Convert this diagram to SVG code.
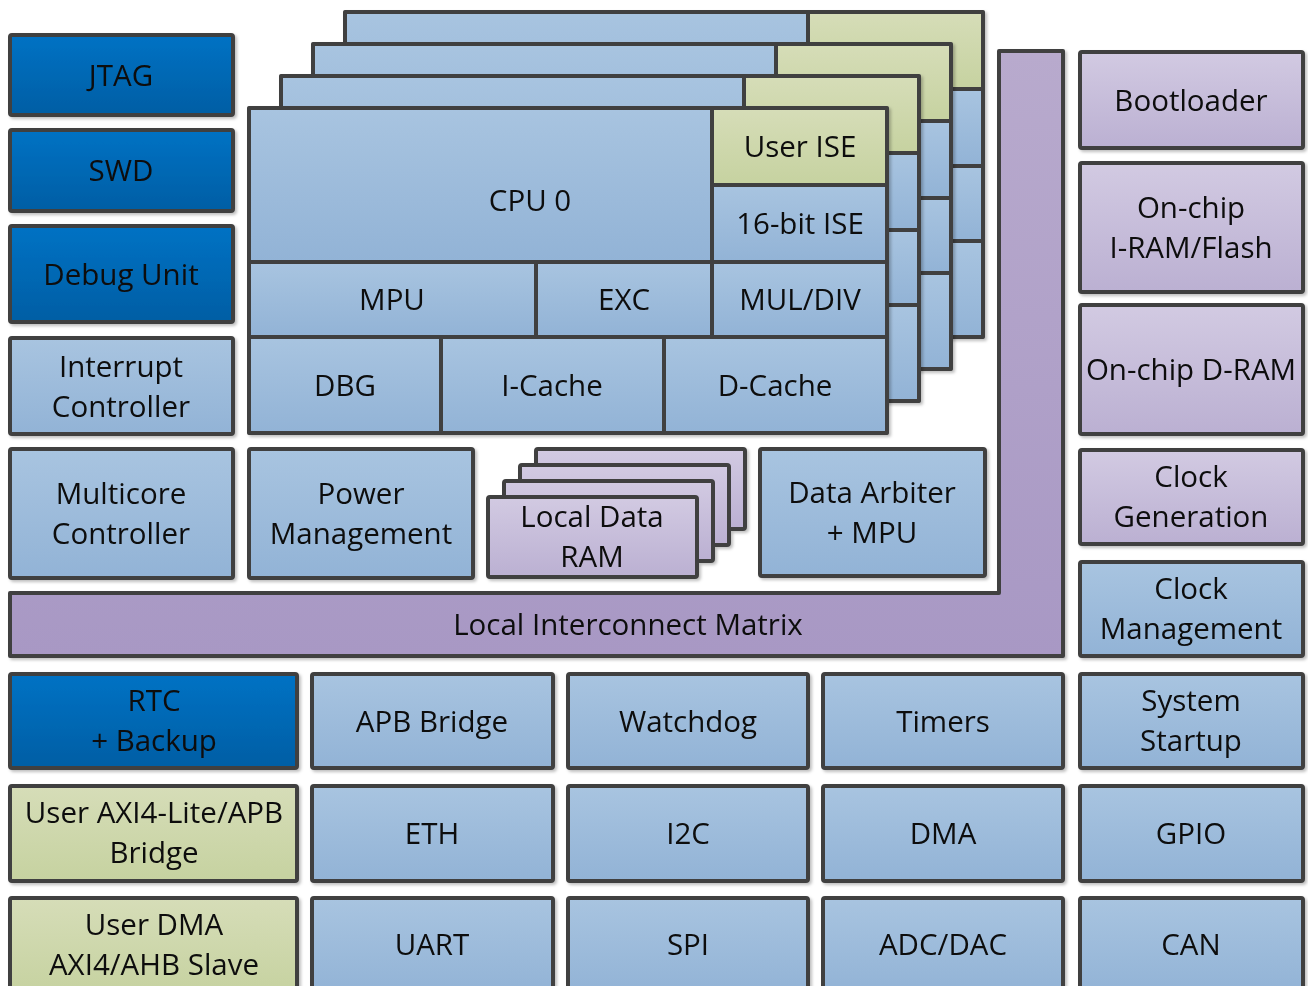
<svg xmlns="http://www.w3.org/2000/svg" xmlns:xlink="http://www.w3.org/1999/xlink" width="1308" height="986" viewBox="0 0 1308 986">
<defs>
<linearGradient id="gBlue" x1="0" y1="0" x2="0" y2="1"><stop offset="0" stop-color="#a8c4e0"/><stop offset="1" stop-color="#92b3d6"/></linearGradient>
<linearGradient id="gDark" x1="0" y1="0" x2="0" y2="1"><stop offset="0" stop-color="#0072c4"/><stop offset="1" stop-color="#005ea4"/></linearGradient>
<linearGradient id="gGreen" x1="0" y1="0" x2="0" y2="1"><stop offset="0" stop-color="#d6ddb8"/><stop offset="1" stop-color="#c6d2a0"/></linearGradient>
<linearGradient id="gPurp" x1="0" y1="0" x2="0" y2="1"><stop offset="0" stop-color="#d2cae2"/><stop offset="1" stop-color="#bbb0d2"/></linearGradient>
<linearGradient id="gL" x1="0" y1="0" x2="0" y2="1"><stop offset="0" stop-color="#b8aacd"/><stop offset="1" stop-color="#a898c4"/></linearGradient>
<filter id="sh" x="-5%" y="-5%" width="115%" height="115%"><feDropShadow dx="2" dy="2" stdDeviation="1.5" flood-color="#000" flood-opacity="0.25"/></filter>
<style>
.bx{stroke:#404040;stroke-width:4;stroke-linejoin:round}
.blue{fill:url(#gBlue)}
.dark{fill:url(#gDark)}
.green{fill:url(#gGreen)}
.purp{fill:url(#gPurp)}
.t{font-family:"Open Sans","Noto Sans","DejaVu Sans",sans-serif;font-size:29.5px;fill:#0d0d0d;text-anchor:middle}
.node{filter:url(#sh)}
</style>
<g id="cpuShape">
<rect class="bx blue" x="249" y="108" width="463" height="154"/>
<rect class="bx green" x="712" y="108" width="175" height="77"/>
<rect class="bx blue" x="712" y="185" width="175" height="77"/>
<rect class="bx blue" x="249" y="262" width="287" height="75"/>
<rect class="bx blue" x="536" y="262" width="176" height="75"/>
<rect class="bx blue" x="712" y="262" width="175" height="75"/>
<rect class="bx blue" x="249" y="337" width="192" height="96"/>
<rect class="bx blue" x="441" y="337" width="223" height="96"/>
<rect class="bx blue" x="664" y="337" width="223" height="96"/>
<rect class="bx" fill="none" x="249" y="108" width="638" height="325" rx="2"/>
</g>
</defs>

<g id="connectors"></g>

<g id="local-interconnect-matrix" class="node">
<path class="bx" fill="url(#gL)" d="M999,51 H1063 V656 H10 V593 H999 Z"/>
<text class="t" x="628" y="635">Local Interconnect Matrix</text>
</g>

<g id="cpu3" class="node"><use xlink:href="#cpuShape" href="#cpuShape" transform="translate(96,-96)"/></g>
<g id="cpu2" class="node"><use xlink:href="#cpuShape" href="#cpuShape" transform="translate(64,-64)"/></g>
<g id="cpu1" class="node"><use xlink:href="#cpuShape" href="#cpuShape" transform="translate(32,-32)"/></g>
<g id="cpu0" class="node">
<use xlink:href="#cpuShape" href="#cpuShape"/>
<text class="t" x="530" y="211">CPU 0</text>
<text class="t" x="800" y="157">User ISE</text>
<text class="t" x="800" y="234">16-bit ISE</text>
<text class="t" x="392" y="310">MPU</text>
<text class="t" x="624" y="310">EXC</text>
<text class="t" x="800" y="310">MUL/DIV</text>
<text class="t" x="345" y="396">DBG</text>
<text class="t" x="552" y="396">I-Cache</text>
<text class="t" x="775" y="396">D-Cache</text>
</g>

<g id="jtag" class="node"><rect class="bx dark" x="10" y="35" width="223" height="80" rx="2"/><text class="t" x="121" y="86">JTAG</text></g>
<g id="swd" class="node"><rect class="bx dark" x="10" y="130" width="223" height="81" rx="2"/><text class="t" x="121" y="181">SWD</text></g>
<g id="debug-unit" class="node"><rect class="bx dark" x="10" y="226" width="223" height="96" rx="2"/><text class="t" x="121" y="285">Debug Unit</text></g>
<g id="interrupt-controller" class="node"><rect class="bx blue" x="10" y="338" width="223" height="96" rx="2"/><text class="t" x="121" y="376.5">Interrupt</text><text class="t" x="121" y="416.5">Controller</text></g>
<g id="multicore-controller" class="node"><rect class="bx blue" x="10" y="449" width="223" height="129" rx="2"/><text class="t" x="121" y="503.5">Multicore</text><text class="t" x="121" y="543.5">Controller</text></g>
<g id="power-management" class="node"><rect class="bx blue" x="249" y="449" width="224" height="129" rx="2"/><text class="t" x="361" y="503.5">Power</text><text class="t" x="361" y="543.5">Management</text></g>

<g id="local-data-ram" class="node">
<rect class="bx purp" x="536" y="449" width="209" height="80" rx="2"/>
<rect class="bx purp" x="520" y="465" width="209" height="80" rx="2"/>
<rect class="bx purp" x="504" y="481" width="209" height="80" rx="2"/>
<rect class="bx purp" x="488" y="497" width="209" height="80" rx="2"/>
<text class="t" x="592" y="527">Local Data</text><text class="t" x="592" y="567">RAM</text>
</g>
<g id="data-arbiter" class="node"><rect class="bx blue" x="760" y="449" width="225" height="127" rx="2"/><text class="t" x="872" y="502.5">Data Arbiter</text><text class="t" x="872" y="542.5">+ MPU</text></g>

<g id="bootloader" class="node"><rect class="bx purp" x="1080" y="52" width="223" height="96" rx="2"/><text class="t" x="1191" y="110.5">Bootloader</text></g>
<g id="onchip-iram" class="node"><rect class="bx purp" x="1080" y="163" width="223" height="129" rx="2"/><text class="t" x="1191" y="217.5">On-chip</text><text class="t" x="1191" y="257.5">I-RAM/Flash</text></g>
<g id="onchip-dram" class="node"><rect class="bx purp" x="1080" y="305" width="223" height="129" rx="2"/><text class="t" x="1191" y="380">On-chip D-RAM</text></g>
<g id="clock-generation" class="node"><rect class="bx purp" x="1080" y="450" width="223" height="94" rx="2"/><text class="t" x="1191" y="486.5">Clock</text><text class="t" x="1191" y="526.5">Generation</text></g>
<g id="clock-management" class="node"><rect class="bx blue" x="1080" y="562" width="223" height="94" rx="2"/><text class="t" x="1191" y="599">Clock</text><text class="t" x="1191" y="639">Management</text></g>
<g id="system-startup" class="node"><rect class="bx blue" x="1080" y="674" width="223" height="94" rx="2"/><text class="t" x="1191" y="711">System</text><text class="t" x="1191" y="751">Startup</text></g>
<g id="gpio" class="node"><rect class="bx blue" x="1080" y="786" width="223" height="95" rx="2"/><text class="t" x="1191" y="844">GPIO</text></g>
<g id="can" class="node"><rect class="bx blue" x="1080" y="898" width="223" height="96" rx="2"/><text class="t" x="1191" y="955">CAN</text></g>

<g id="rtc" class="node"><rect class="bx dark" x="10" y="674" width="287" height="94" rx="2"/><text class="t" x="154" y="711">RTC</text><text class="t" x="154" y="751">+ Backup</text></g>
<g id="apb-bridge" class="node"><rect class="bx blue" x="312" y="674" width="241" height="94" rx="2"/><text class="t" x="432" y="732">APB Bridge</text></g>
<g id="watchdog" class="node"><rect class="bx blue" x="568" y="674" width="240" height="94" rx="2"/><text class="t" x="688" y="732">Watchdog</text></g>
<g id="timers" class="node"><rect class="bx blue" x="823" y="674" width="240" height="94" rx="2"/><text class="t" x="943" y="732">Timers</text></g>

<g id="user-axi4-lite" class="node"><rect class="bx green" x="10" y="786" width="287" height="95" rx="2"/><text class="t" x="154" y="823">User AXI4-Lite/APB</text><text class="t" x="154" y="863">Bridge</text></g>
<g id="eth" class="node"><rect class="bx blue" x="312" y="786" width="241" height="95" rx="2"/><text class="t" x="432" y="844">ETH</text></g>
<g id="i2c" class="node"><rect class="bx blue" x="568" y="786" width="240" height="95" rx="2"/><text class="t" x="688" y="844">I2C</text></g>
<g id="dma" class="node"><rect class="bx blue" x="823" y="786" width="240" height="95" rx="2"/><text class="t" x="943" y="844">DMA</text></g>

<g id="user-dma" class="node"><rect class="bx green" x="10" y="898" width="287" height="96" rx="2"/><text class="t" x="154" y="935">User DMA</text><text class="t" x="154" y="975">AXI4/AHB Slave</text></g>
<g id="uart" class="node"><rect class="bx blue" x="312" y="898" width="241" height="96" rx="2"/><text class="t" x="432" y="955">UART</text></g>
<g id="spi" class="node"><rect class="bx blue" x="568" y="898" width="240" height="96" rx="2"/><text class="t" x="688" y="955">SPI</text></g>
<g id="adc-dac" class="node"><rect class="bx blue" x="823" y="898" width="240" height="96" rx="2"/><text class="t" x="943" y="955">ADC/DAC</text></g>
</svg>
